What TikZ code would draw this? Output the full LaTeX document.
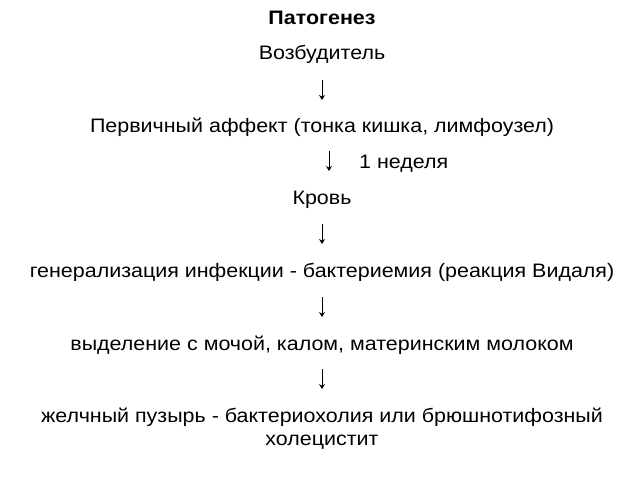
\documentclass[tikz,border=0pt]{standalone}
\usepackage{fontspec}
\setmainfont{Liberation Sans}
\usetikzlibrary{arrows.meta}
\newcommand{\wide}[1]{\scalebox{1.1}[1]{#1}}
\begin{document}
\begin{tikzpicture}[x=1pt,y=-1pt,
  txt/.style={anchor=base,inner sep=0pt,font=\fontsize{19.5}{22}\selectfont},
  ttl/.style={txt,font=\fontsize{19.5}{22}\selectfont\bfseries},
  arrowst/.style={line width=0.9pt,-{Stealth[length=5pt,width=6pt]}}]
\useasboundingbox (0,0) rectangle (640,480);
\node[ttl] (t) at (322,24) {\wide{Патогенез}};
\node[txt] (a) at (322,59) {\wide{Возбудитель}};
\node[txt] (b) at (322,132) {\wide{Первичный аффект (тонка кишка, лимфоузел)}};
\node[txt,anchor=base west] (w) at (359,168) {\wide{1 неделя}};
\node[txt] (c) at (322,204) {\wide{Кровь}};
\node[txt] (d) at (322,277) {\wide{генерализация инфекции - бактериемия (реакция Видаля)}};
\node[txt] (e) at (322,350) {\wide{выделение с мочой, калом, материнским молоком}};
\node[txt] (f) at (322,422) {\wide{желчный пузырь - бактериохолия или брюшнотифозный}};
\node[txt] (g) at (322,445) {\wide{холецистит}};
\coordinate (r1s) at (322,80);  \coordinate (r1e) at (322,100);
\coordinate (r2s) at (329,151); \coordinate (r2e) at (329,171);
\coordinate (r3s) at (322,224); \coordinate (r3e) at (322,244);
\coordinate (r4s) at (322,297); \coordinate (r4e) at (322,317);
\coordinate (r5s) at (322,369); \coordinate (r5e) at (322,389);
\draw[arrowst] (r1s) -- (r1e);
\draw[arrowst] (r2s) -- (r2e);
\draw[arrowst] (r3s) -- (r3e);
\draw[arrowst] (r4s) -- (r4e);
\draw[arrowst] (r5s) -- (r5e);
\end{tikzpicture}
\end{document}
